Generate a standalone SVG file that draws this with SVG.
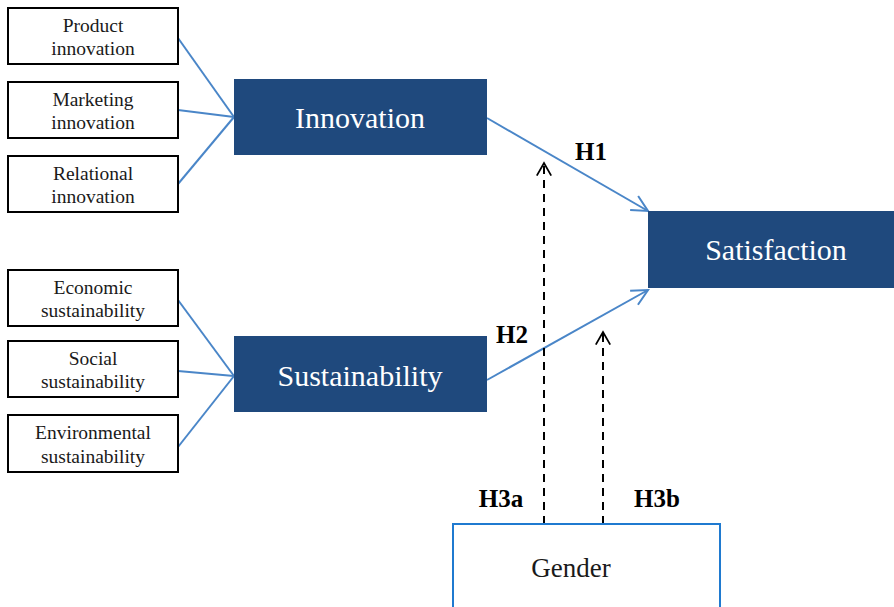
<svg xmlns="http://www.w3.org/2000/svg" width="894" height="607" viewBox="0 0 894 607">
<defs>
<style>
.src{fill:#fff;stroke:#000;stroke-width:2}
.t{font-family:"Liberation Serif",serif;fill:#1a1a1a;text-anchor:middle}
.small{font-size:19.5px}
.big{font-family:"Liberation Serif",serif;fill:#fff;font-size:30px;text-anchor:middle}
.dark{fill:#1f497d}
.lnk{stroke:#4a86c8;stroke-width:2;fill:none}
.dash{stroke:#000;stroke-width:2;fill:none;stroke-dasharray:8,6}
.lbl{font-family:"Liberation Serif",serif;font-weight:bold;font-size:25px;fill:#000;text-anchor:middle}
</style>
<marker id="ab" viewBox="0 0 20 20" refX="18" refY="10" markerWidth="20" markerHeight="20" markerUnits="userSpaceOnUse" orient="auto"><path d="M2,2 L18,10 L2,18" fill="none" stroke="#4a86c8" stroke-width="2"/></marker>
<marker id="ak" viewBox="0 0 20 20" refX="18" refY="10" markerWidth="18" markerHeight="18" markerUnits="userSpaceOnUse" orient="auto"><path d="M4,2 L18,10 L4,18" fill="none" stroke="#000" stroke-width="2"/></marker>
</defs>
<rect width="894" height="607" fill="#fff"/>
<g id="connectors">
<path class="lnk" d="M178,38 L234,117"/>
<path class="lnk" d="M178,110 L234,117"/>
<path class="lnk" d="M178,184 L234,117"/>
<path class="lnk" d="M178,300 L234,376"/>
<path class="lnk" d="M178,371 L234,376"/>
<path class="lnk" d="M178,447 L234,376"/>
<path class="lnk" d="M487,118 L648,211" marker-end="url(#ab)"/>
<path class="lnk" d="M487,380 L648,290" marker-end="url(#ab)"/>
<path class="dash" d="M544,524 L544,163" marker-end="url(#ak)"/>
<path class="dash" d="M603,524 L603,332" marker-end="url(#ak)"/>
</g>
<g id="product"><rect class="src" x="8" y="8" width="170" height="56"/><text class="t small" x="93" y="32">Product</text><text class="t small" x="93" y="55">innovation</text></g>
<g id="marketing"><rect class="src" x="8" y="82" width="170" height="56"/><text class="t small" x="93" y="106">Marketing</text><text class="t small" x="93" y="129">innovation</text></g>
<g id="relational"><rect class="src" x="8" y="156" width="170" height="56"/><text class="t small" x="93" y="180">Relational</text><text class="t small" x="93" y="203">innovation</text></g>
<g id="economic"><rect class="src" x="8" y="270" width="170" height="56"/><text class="t small" x="93" y="294">Economic</text><text class="t small" x="93" y="317">sustainability</text></g>
<g id="social"><rect class="src" x="8" y="341" width="170" height="56"/><text class="t small" x="93" y="365">Social</text><text class="t small" x="93" y="388">sustainability</text></g>
<g id="environmental"><rect class="src" x="8" y="415" width="170" height="57"/><text class="t small" x="93" y="439">Environmental</text><text class="t small" x="93" y="463">sustainability</text></g>
<g id="innovation"><rect class="dark" x="234" y="79" width="253" height="76"/><text class="big" x="360" y="128">Innovation</text></g>
<g id="sustainability"><rect class="dark" x="234" y="336" width="253" height="76"/><text class="big" x="360" y="386">Sustainability</text></g>
<g id="satisfaction"><rect class="dark" x="648" y="211" width="246" height="77"/><text class="big" x="776" y="260">Satisfaction</text></g>
<g id="gender"><rect x="453" y="524" width="267" height="90" fill="#fff" stroke="#1f7ad0" stroke-width="2"/><text class="t" x="571" y="577" font-size="27">Gender</text></g>
<g id="labels">
<text class="lbl" x="591" y="160">H1</text>
<text class="lbl" x="512" y="343">H2</text>
<text class="lbl" x="501" y="507">H3a</text>
<text class="lbl" x="657" y="507">H3b</text>
</g>
</svg>
